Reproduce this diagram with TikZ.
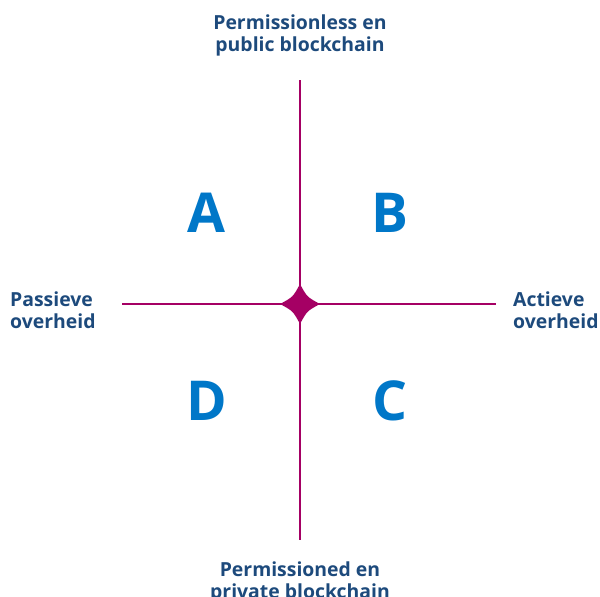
\documentclass[tikz,border=0pt]{standalone}
\usepackage{fontspec}
\setmainfont{Open Sans}[BoldFont={* Bold}]
\definecolor{axiscol}{HTML}{A50064}
\definecolor{labelcol}{HTML}{1D4A7C}
\definecolor{lettercol}{HTML}{0077C8}
\begin{document}
\begin{tikzpicture}[x=1pt,y=-1pt,
  axislabel/.style={font=\fontsize{19.4}{22.5}\selectfont\bfseries, text=labelcol, inner sep=0pt},
  quad/.style={font=\fontsize{55}{60}\selectfont\bfseries, text=lettercol, inner sep=0pt, anchor=base},
  axis/.style={draw=axiscol, line width=1.4pt}]
\useasboundingbox (0,0) rectangle (600,597);
\coordinate (top) at (300,80);
\coordinate (bot) at (300,540);
\coordinate (lft) at (122,304);
\coordinate (rgt) at (496,304);
\coordinate (ctr) at (300,304);
\draw[axis] (top) -- (bot);
\draw[axis] (lft) -- (rgt);
\fill[axiscol] ([xshift=20pt]ctr) .. controls ([xshift=7pt,yshift=-7pt]ctr) .. ([yshift=-20pt]ctr)
  .. controls ([xshift=-7pt,yshift=-7pt]ctr) .. ([xshift=-20pt]ctr)
  .. controls ([xshift=-7pt,yshift=7pt]ctr) .. ([yshift=20pt]ctr)
  .. controls ([xshift=7pt,yshift=7pt]ctr) .. cycle;
\node[axislabel, align=center, anchor=base] (tl) at (300,51.5) {Permissionless en\\public blockchain};
\node[axislabel, align=center, anchor=base] (bl) at (300,598.5) {Permissioned en\\private blockchain};
\node[axislabel, align=left, anchor=base west] (ll) at (10,328.5) {Passieve\\overheid};
\node[axislabel, align=left, anchor=base west] (rl) at (513,328.5) {Actieve\\overheid};
\node[quad] (A) at (206,232) {A};
\node[quad] (B) at (390,232) {B};
\node[quad] (D) at (207,420) {D};
\node[quad] (C) at (390,420) {C};
\end{tikzpicture}
\end{document}
